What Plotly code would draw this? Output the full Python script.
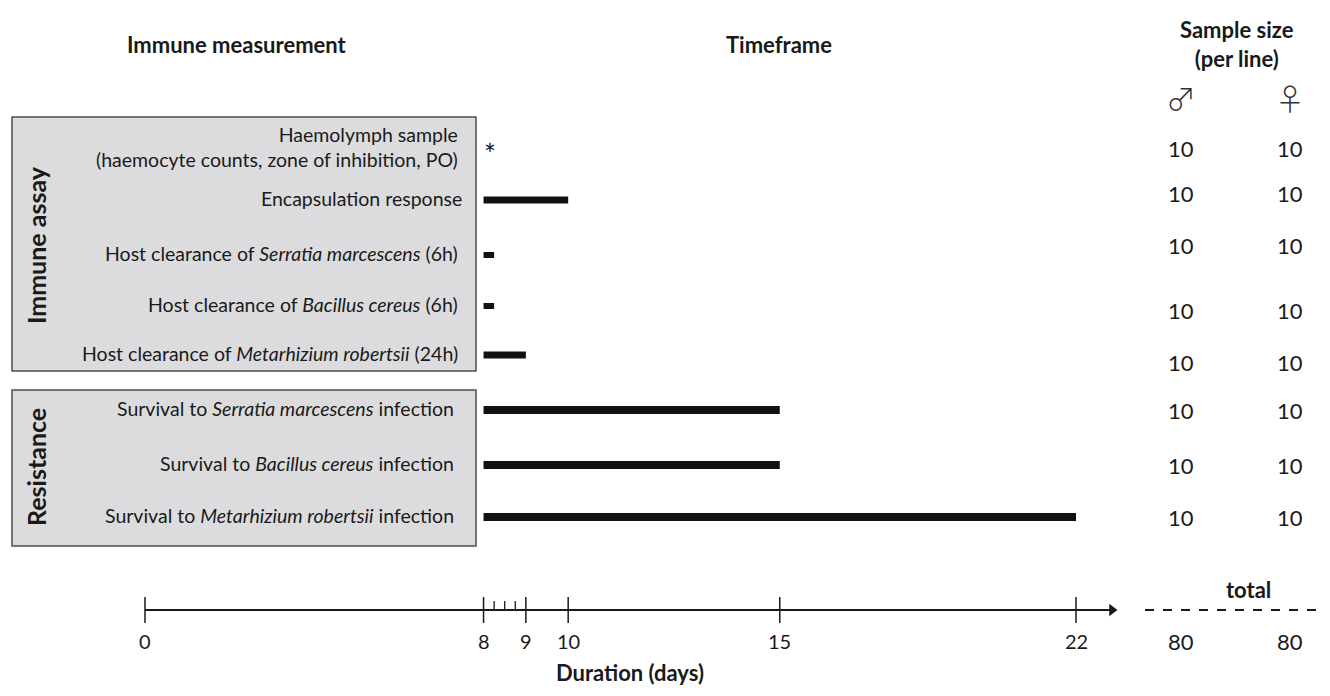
import plotly.graph_objects as go

# ---------------- data ----------------
measurements = [
    "Haemolymph sample<br>(haemocyte counts, zone of inhibition, PO)",
    "Encapsulation response",
    "Host clearance of <i>Serratia marcescens</i> (6h)",
    "Host clearance of <i>Bacillus cereus</i> (6h)",
    "Host clearance of <i>Metarhizium robertsii</i> (24h)",
    "Survival to <i>Serratia marcescens</i> infection",
    "Survival to <i>Bacillus cereus</i> infection",
    "Survival to <i>Metarhizium robertsii</i> infection",
]
start_day = [8, 8, 8, 8, 8, 8, 8, 8]
end_day = [None, 10, 8.25, 8.25, 9, 15, 15, 22]
male_n = [10, 10, 10, 10, 10, 10, 10, 10]
female_n = [10, 10, 10, 10, 10, 10, 10, 10]
total_male = 80
total_female = 80
major_ticks = [0, 8, 9, 10, 15, 22]
minor_ticks = [8.25, 8.5, 8.75]
groups = ["Immune assay", "Resistance"]

# ---------------- layout helpers (reference pixel geometry) ----------------
OFF = 8                      # page body margin
W, H = 1330 - 2 * OFF, 696 - 2 * OFF
X0PX = 145.0
K = (1076.0 - 145.0) / 22.0  # px per day
xmin = (OFF - X0PX) / K
xmax = (OFF + W - X0PX) / K

def px(xp):
    return (xp - OFF) / W

row_y = [150, 200, 255, 306, 355, 410, 465, 517]
n_y = [148, 193, 245, 310, 362, 410, 465, 517]
label_right = [460, 464, 460, 460, 460, 456, 456, 456]
bar_w = [0, 7, 6, 6, 7, 8, 8, 8]
axis_y = 610
FONT = "Lato"
TXT = "#1a1a1a"
LBL = 19.5
BIG = 22

fig = go.Figure()

def text(xp, y, s, size, xanchor="center", **kw):
    fig.add_annotation(xref="paper", x=px(xp), y=y, text=s, showarrow=False,
                       xanchor=xanchor, yanchor="middle",
                       font=dict(family=kw.pop("family", FONT), size=size,
                                 color=kw.pop("color", TXT), **kw.pop("fkw", {})),
                       **kw)

# bars
for i, (s, e) in enumerate(zip(start_day, end_day)):
    if e is None:
        continue
    fig.add_trace(go.Scatter(x=[s, e], y=[row_y[i], row_y[i]], mode="lines",
                             line=dict(color="#111111", width=bar_w[i]),
                             hoverinfo="skip", showlegend=False))

# timeline axis line
fig.add_trace(go.Scatter(x=[0, 22.85], y=[axis_y, axis_y], mode="lines",
                         line=dict(color="#1a1a1a", width=2),
                         hoverinfo="skip", showlegend=False))
fig.add_trace(go.Scatter(x=[22.85], y=[axis_y], mode="markers",
                         marker=dict(symbol="triangle-right", size=11, color="#1a1a1a"),
                         hoverinfo="skip", showlegend=False))
# major ticks
for t in major_ticks:
    fig.add_trace(go.Scatter(x=[t, t], y=[axis_y - 13, axis_y + 13], mode="lines",
                             line=dict(color="#1a1a1a", width=1.5),
                             hoverinfo="skip", showlegend=False))
    fig.add_annotation(x=t, y=axis_y + 31, text=str(t), showarrow=False,
                       xanchor="center",
                       font=dict(family=FONT, size=20, color=TXT))
# minor ticks
for t in minor_ticks:
    fig.add_trace(go.Scatter(x=[t, t], y=[axis_y - 9, axis_y], mode="lines",
                             line=dict(color="#1a1a1a", width=1.3),
                             hoverinfo="skip", showlegend=False))
# dashed line for total
fig.add_trace(go.Scatter(x=[(1145 - X0PX) / K, xmax], y=[axis_y, axis_y], mode="lines",
                         line=dict(color="#1a1a1a", width=2, dash="dash"),
                         hoverinfo="skip", showlegend=False))

# gray boxes
for (y0, y1) in [(117, 371), (390, 546)]:
    fig.add_shape(type="rect", xref="paper", yref="y", x0=px(12), x1=px(476),
                  y0=y0, y1=y1, fillcolor="#dcdcde",
                  line=dict(color="#4d4d4d", width=1.5), layer="below")

# group labels
for g, yc in zip(groups, [245, 467]):
    text(36, yc, "<b>%s</b>" % g, 25, textangle=-90)

# measurement labels
for i, m in enumerate(measurements):
    text(label_right[i], row_y[i] - 3 if i == 0 else row_y[i] - 2, m, LBL,
         xanchor="right", align="right")
# asterisk
text(482, row_y[0] + 4, "*", 28, xanchor="left")

# sample sizes
for i in range(len(male_n)):
    text(1181, n_y[i], str(male_n[i]), BIG)
    text(1290, n_y[i], str(female_n[i]), BIG)
text(1181, 641, str(total_male), BIG)
text(1290, 641, str(total_female), BIG)
text(1248, 589, "<b>total</b>", BIG)

# sex symbols
text(1181, 97, "\u2642", 30, family="Noto Sans CJK JP", color="#333333", fkw=dict(weight=300))
text(1290, 97, "\u2640", 30, family="Noto Sans CJK JP", color="#333333", fkw=dict(weight=300))

# headers
text(237, 44, "<b>Immune measurement</b>", BIG)
text(779, 44, "<b>Timeframe</b>", BIG)
text(1237, 44, "<b>Sample size<br>(per line)</b>", BIG)
text(630, 672, "<b>Duration (days)</b>", BIG)

fig.update_xaxes(range=[xmin, xmax], visible=False, fixedrange=True)
fig.update_yaxes(range=[OFF + H, OFF], visible=False, fixedrange=True)
fig.update_layout(width=W, height=H, margin=dict(l=0, r=0, t=0, b=0),
                  plot_bgcolor="white", paper_bgcolor="white", showlegend=False)

fig.write_html("out.html")
